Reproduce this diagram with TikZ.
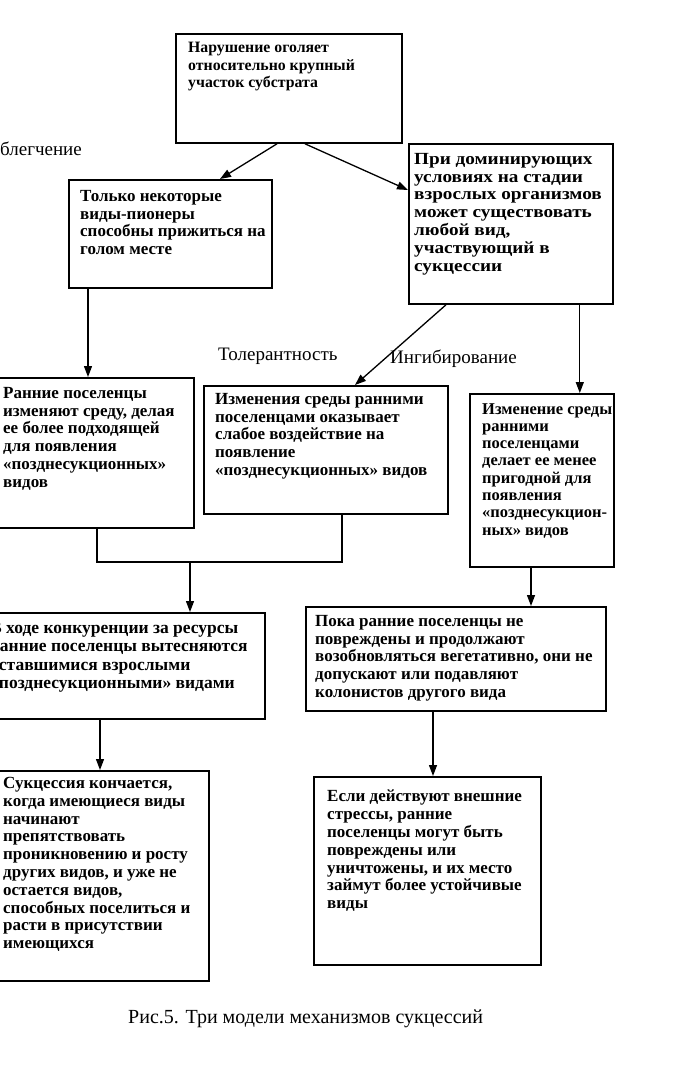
\documentclass[tikz,border=0pt]{standalone}
\usepackage{fontspec}
\setmainfont{Liberation Serif}
\usetikzlibrary{arrows.meta,calc}
\tikzset{
 box/.style={draw, line width=1.8pt, anchor=north west, inner sep=0pt},
 txt/.style={anchor=north west, inner sep=0pt, align=left, font=\bfseries\fontsize{17}{17.8}\selectfont},
 lbl/.style={inner sep=0pt, font=\fontsize{19}{22}\selectfont},
 con/.style={line width=1.3pt},
 arr/.style={line width=1.3pt, -{Triangle[length=11pt,width=8pt]}},
}
\begin{document}
\begin{tikzpicture}[x=1pt,y=1pt]
\useasboundingbox (0,0) rectangle (676,-1071);
\clip (0,0) rectangle (676,-1071);
\fill[white] (0,0) rectangle (676,-1071);
% boxes
\node[box, minimum width=226, minimum height=109] (b1) at (175,-33) {};
\node[box, minimum width=203, minimum height=108] (b2) at (68,-179) {};
\node[box, minimum width=204, minimum height=160] (b3) at (408,-143) {};
\node[box, minimum width=198, minimum height=150] (b4) at (-5,-377) {};
\node[box, minimum width=244, minimum height=128] (b5) at (203,-385) {};
\node[box, minimum width=144, minimum height=173] (b6) at (469,-393) {};
\node[box, minimum width=269, minimum height=106] (b7) at (-5,-612) {};
\node[box, minimum width=300, minimum height=104] (b8) at (305,-606) {};
\node[box, minimum width=213, minimum height=210] (b9) at (-5,-770) {};
\node[box, minimum width=227, minimum height=188] (b10) at (313,-776) {};
% texts
\node[txt, font=\bfseries\fontsize{15.8}{17.5}\selectfont] (t1) at (188,-42) {Нарушение оголяет\\относительно крупный\\участок субстрата};
\node[txt] (t2) at (80,-190) {Только некоторые\\виды-пионеры\\способны прижиться на\\голом месте};
\node[txt, font=\bfseries\fontsize{17}{17.8}\selectfont\addfontfeature{FakeStretch=1.13}] (t3) at (414,-153) {При доминирующих\\условиях на стадии\\взрослых организмов\\может существовать\\любой вид,\\участвующий в\\сукцессии};
\node[txt] (t4) at (3,-387) {Ранние поселенцы\\изменяют среду, делая\\ее более подходящей\\для появления\\«позднесукционных»\\видов};
\node[txt] (t5) at (215,-393) {Изменения среды ранними\\поселенцами оказывает\\слабое воздействие на\\появление\\«позднесукционных» видов};
\node[txt, font=\bfseries\fontsize{16.5}{17.3}\selectfont] (t6) at (482,-403) {Изменение среды\\ранними\\поселенцами\\делает ее менее\\пригодной для\\появления\\«позднесукцион-\\ных» видов};
\node[txt, font=\bfseries\fontsize{17.5}{18.3}\selectfont] (t7) at (-10,-622) {В ходе конкуренции за ресурсы\\ранние поселенцы вытесняются\\оставшимися взрослыми\\«позднесукционными» видами};
\node[txt] (t8) at (315,-615) {Пока ранние поселенцы не\\повреждены и продолжают\\возобновляться вегетативно, они не\\допускают или подавляют\\колонистов другого вида};
\node[txt] (t9) at (3,-777) {Сукцессия кончается,\\когда имеющиеся виды\\начинают\\препятствовать\\проникновению и росту\\других видов, и уже не\\остается видов,\\способных поселиться и\\расти в присутствии\\имеющихся};
\node[txt] (t10) at (327,-790) {Если действуют внешние\\стрессы, ранние\\поселенцы могут быть\\повреждены или\\уничтожены, и их место\\займут более устойчивые\\виды};
% labels
\node[lbl, anchor=base east] (l1) at (82,-155) {Облегчение};
\node[lbl, anchor=base west] (l2) at (218,-360) {Толерантность};
\node[lbl, anchor=base west] (l3) at (390,-363) {Ингибирование};
\node[lbl, anchor=base west, font=\fontsize{20}{24}\selectfont] (cap) at (128,-1023) {Рис.5. Три модели механизмов сукцессий};
% connectors
\draw[arr] ([xshift=102pt]b1.south west) -- ([xshift=152pt]b2.north west);
\draw[arr] ([xshift=130pt]b1.south west) -- ([yshift=-47pt]b3.north west);
\draw[arr] ([xshift=20pt]b2.south west) -- ([xshift=20pt]b2.south west |- b4.north);
\draw[arr] ([xshift=38pt]b3.south west) -- ([xshift=152pt]b5.north west);
\draw[arr] ([xshift=-34pt]b3.south east) -- ([xshift=-34pt]b3.south east |- b6.north);
\coordinate (j) at (190,-562);
\draw[con] ([xshift=102pt]b4.south west) |- (j);
\draw[con] ([xshift=139pt]b5.south west) |- (j);
\draw[arr] (j) -- (j |- b7.north);
\draw[arr] ([xshift=62pt]b6.south west) -- ([xshift=62pt]b6.south west |- b8.north);
\draw[arr] ([xshift=105pt]b7.south west) -- ([xshift=105pt]b7.south west |- b9.north);
\draw[arr] ([xshift=128pt]b8.south west) -- ([xshift=128pt]b8.south west |- b10.north);
\end{tikzpicture}
\end{document}
